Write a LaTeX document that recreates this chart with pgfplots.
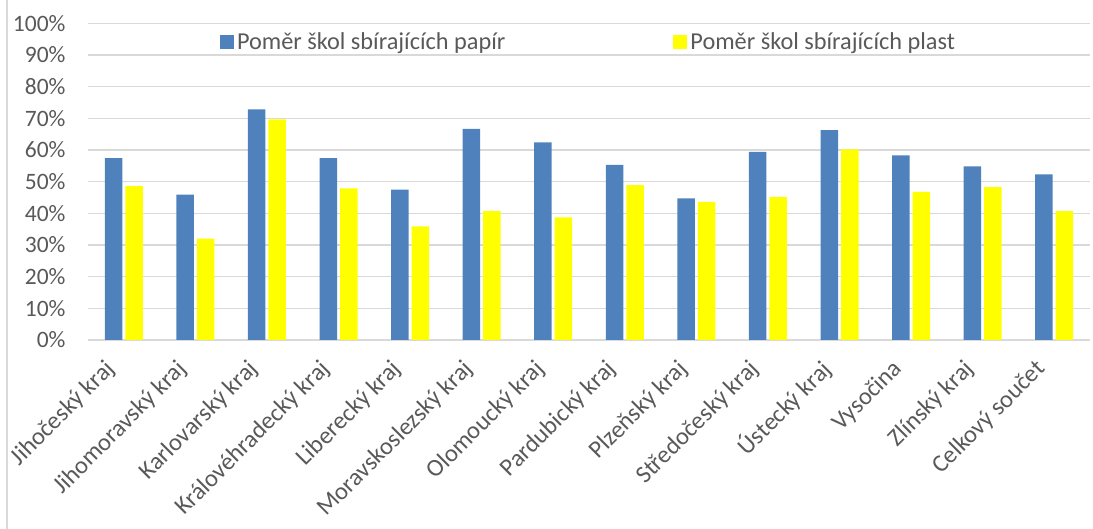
\documentclass[border=0pt]{standalone}
\usepackage{fontspec}
\setmainfont{Carlito}
\usepackage{pgfplots}
\pgfplotsset{compat=1.18}
\definecolor{barblue}{HTML}{4F81BD}
\definecolor{baryellow}{HTML}{FFFF00}
\definecolor{txt}{HTML}{595959}
\definecolor{gridc}{HTML}{D9D9D9}
\begin{document}
\begin{tikzpicture}[x=1pt,y=1pt]
\useasboundingbox (0,0) rectangle (1093,529);
\draw[gridc, line width=1.5pt] (7,0) -- (7,529);
\begin{axis}[
  at={(88pt,189pt)}, anchor=south west, scale only axis,
  width=1002pt, height=316.7pt,
  xmin=-0.5, xmax=13.5, ymin=0, ymax=100,
  enlarge x limits=false, enlarge y limits=false,
  ybar=3pt, bar width=17.5pt,
  axis line style={draw=none},
  major tick length=0pt,
  ymajorgrids, grid style={gridc, line width=1.3pt},
  ytick={0,10,...,100},
  /pgf/number format/assume math mode=true,
  yticklabel={\pgfmathprintnumber{\tick}\%},
  xtick={0,...,13},
  xticklabels={Jihočeský kraj, Jihomoravský kraj, Karlovarský kraj, Královéhradecký kraj, Liberecký kraj, Moravskoslezský kraj, Olomoucký kraj, Pardubický kraj, Plzeňský kraj, Středočeský kraj, Ústecký kraj, Vysočina, Zlínský kraj, Celkový součet},
  x tick label style={xshift=-11pt, yshift=-24pt, rotate=45, anchor=east, font=\fontsize{24.5}{24.5}\selectfont, text=txt, inner sep=2pt},
  y tick label style={font=\fontsize{23.5}{23.5}\selectfont, text=txt, xshift=-19pt},
  legend style={at={(0.5,0.941)}, anchor=center, draw=none, fill=none,
    font=\fontsize{24.3}{24.3}\selectfont, text=txt,
    nodes={inner sep=3pt},
    /tikz/every even column/.append style={column sep=165pt}},
  legend columns=2,
  legend image code/.code={\fill[#1] (0pt,-7pt) rectangle (14pt,7pt);},
]
\addplot[fill=barblue, draw=none] coordinates {
(0,57.4) (1,45.9) (2,72.8) (3,57.4) (4,47.5) (5,66.7) (6,62.4)
(7,55.3) (8,44.7) (9,59.4) (10,66.3) (11,58.3) (12,54.8) (13,52.3)};
\addplot[fill=baryellow, draw=none] coordinates {
(0,48.6) (1,32.0) (2,69.7) (3,47.9) (4,35.9) (5,40.7) (6,38.7)
(7,48.9) (8,43.6) (9,45.2) (10,60.2) (11,46.8) (12,48.3) (13,40.7)};
\legend{Poměr škol sbírajících papír, Poměr škol sbírajících plast}
\end{axis}
\end{tikzpicture}
\end{document}
